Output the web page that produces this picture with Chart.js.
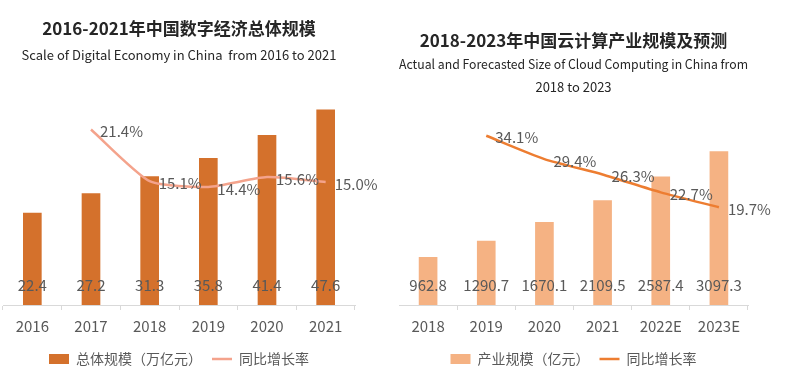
<!DOCTYPE html>
<html>
<head>
<meta charset="utf-8">
<script src="https://cdn.jsdelivr.net/npm/chart.js@4"></script>
<style>
  body { margin: 0; background: #fff; }
  .wrap { display: flex; width: 798px; height: 387px; }
  canvas { display: block; }
</style>
</head>
<body>
<div class="wrap">
  <canvas id="digitalChart" width="399" height="387"></canvas>
  <canvas id="cloudChart" width="399" height="387"></canvas>
</div>
<script>
// 数字经济
var digitalYears = ['2016', '2017', '2018', '2019', '2020', '2021'];
var digitalScale = [22.4, 27.2, 31.3, 35.8, 41.4, 47.6];
var digitalGrowth = [null, 21.4, 15.1, 14.4, 15.6, 15.0];

// 云计算
var cloudYears = ['2018', '2019', '2020', '2021', '2022E', '2023E'];
var cloudScale = [962.8, 1290.7, 1670.1, 2109.5, 2587.4, 3097.3];
var cloudGrowth = [null, 34.1, 29.4, 26.3, 22.7, 19.7];

var FONT = '"Noto Sans CJK SC", "Noto Sans", sans-serif';
var GRAY = '#595959';

var valueLabels = {
    id: 'valueLabels',
    afterDatasetsDraw: function (chart) {
        var ctx = chart.ctx;
        ctx.save();
        ctx.font = '15px ' + FONT;
        ctx.fillStyle = GRAY;
        ctx.textBaseline = 'middle';
        chart.data.datasets.forEach(function (ds, i) {
            var meta = chart.getDatasetMeta(i);
            meta.data.forEach(function (el, j) {
                var v = ds.data[j];
                if (v == null) return;
                if (ds.type === 'line') {
                    ctx.textAlign = 'left';
                    ctx.fillText(v.toFixed(1) + '%', el.x + 9, el.y + 2);
                } else {
                    ctx.textAlign = 'center';
                    ctx.fillText(v.toFixed(1), el.x, chart.chartArea.bottom - 20);
                }
            });
        });
        ctx.restore();
    }
};

function makeOptions(title, subtitle, yMax, y1Max, pad) {
    return {
        responsive: false,
        animation: false,
        layout: { padding: pad },
        plugins: {
            title: {
                display: true,
                text: title.text,
                color: '#262626',
                font: { family: FONT, size: 17, weight: 'bold' },
                padding: title.padding
            },
            subtitle: {
                display: true,
                text: subtitle.text,
                color: '#262626',
                font: { family: FONT, size: 13, lineHeight: subtitle.lineHeight },
                padding: subtitle.padding
            },
            legend: {
                position: 'bottom',
                reverse: true,
                labels: {
                    usePointStyle: true,
                    pointStyleWidth: 20,
                    boxHeight: 10,
                    padding: 10,
                    color: GRAY,
                    font: { family: FONT, size: 14 }
                }
            },
            tooltip: { enabled: false }
        },
        scales: {
            x: {
                grid: {
                    drawOnChartArea: false,
                    drawTicks: true,
                    tickLength: 5,
                    color: '#d9d9d9',
                    offset: true
                },
                border: { display: true, color: '#d9d9d9' },
                ticks: { color: GRAY, padding: 7, font: { family: FONT, size: 15 } }
            },
            y: { display: false, min: 0, max: yMax },
            y1: { display: false, min: 0, max: y1Max }
        }
    };
}

new Chart(document.getElementById('digitalChart').getContext('2d'), {
    type: 'bar',
    data: {
        labels: digitalYears,
        datasets: [{
            type: 'line',
            label: '同比增长率',
            data: digitalGrowth,
            yAxisID: 'y1',
            borderColor: '#F4A38C',
            backgroundColor: '#F4A38C',
            borderWidth: 2.5,
            pointRadius: 0,
            pointStyle: 'line',
            tension: 0.2,
            order: 0
        }, {
            type: 'bar',
            label: '总体规模（万亿元）',
            data: digitalScale,
            yAxisID: 'y',
            backgroundColor: '#D4712C',
            pointStyle: 'rect',
            barThickness: 18,
            order: 1
        }]
    },
    options: makeOptions(
        { text: '2016-2021年中国数字经济总体规模', padding: { top: 18, bottom: 6 } },
        { text: 'Scale of Digital Economy in China  from 2016 to 2021', lineHeight: 1.2, padding: { top: 3, bottom: 37 } },
        50, 25,
        { left: 3, right: 44, top: 0, bottom: 11 }
    ),
    plugins: [valueLabels]
});

new Chart(document.getElementById('cloudChart').getContext('2d'), {
    type: 'bar',
    data: {
        labels: cloudYears,
        datasets: [{
            type: 'line',
            label: '同比增长率',
            data: cloudGrowth,
            yAxisID: 'y1',
            borderColor: '#ED7D31',
            backgroundColor: '#ED7D31',
            borderWidth: 2.5,
            pointRadius: 0,
            pointStyle: 'line',
            tension: 0.2,
            order: 0
        }, {
            type: 'bar',
            label: '产业规模（亿元）',
            data: cloudScale,
            yAxisID: 'y',
            backgroundColor: '#F5B283',
            pointStyle: 'rect',
            barThickness: 18,
            order: 1
        }]
    },
    options: makeOptions(
        { text: '2018-2023年中国云计算产业规模及预测', padding: { top: 30, bottom: 2 } },
        { text: ['Actual and Forecasted Size of Cloud Computing in China from', '2018 to 2023'], lineHeight: 1.77, padding: { top: 0, bottom: 1.6 } },
        4140, 41.3,
        { left: 0, right: 50, top: 0, bottom: 11 }
    ),
    plugins: [valueLabels]
});
</script>
</body>
</html>
